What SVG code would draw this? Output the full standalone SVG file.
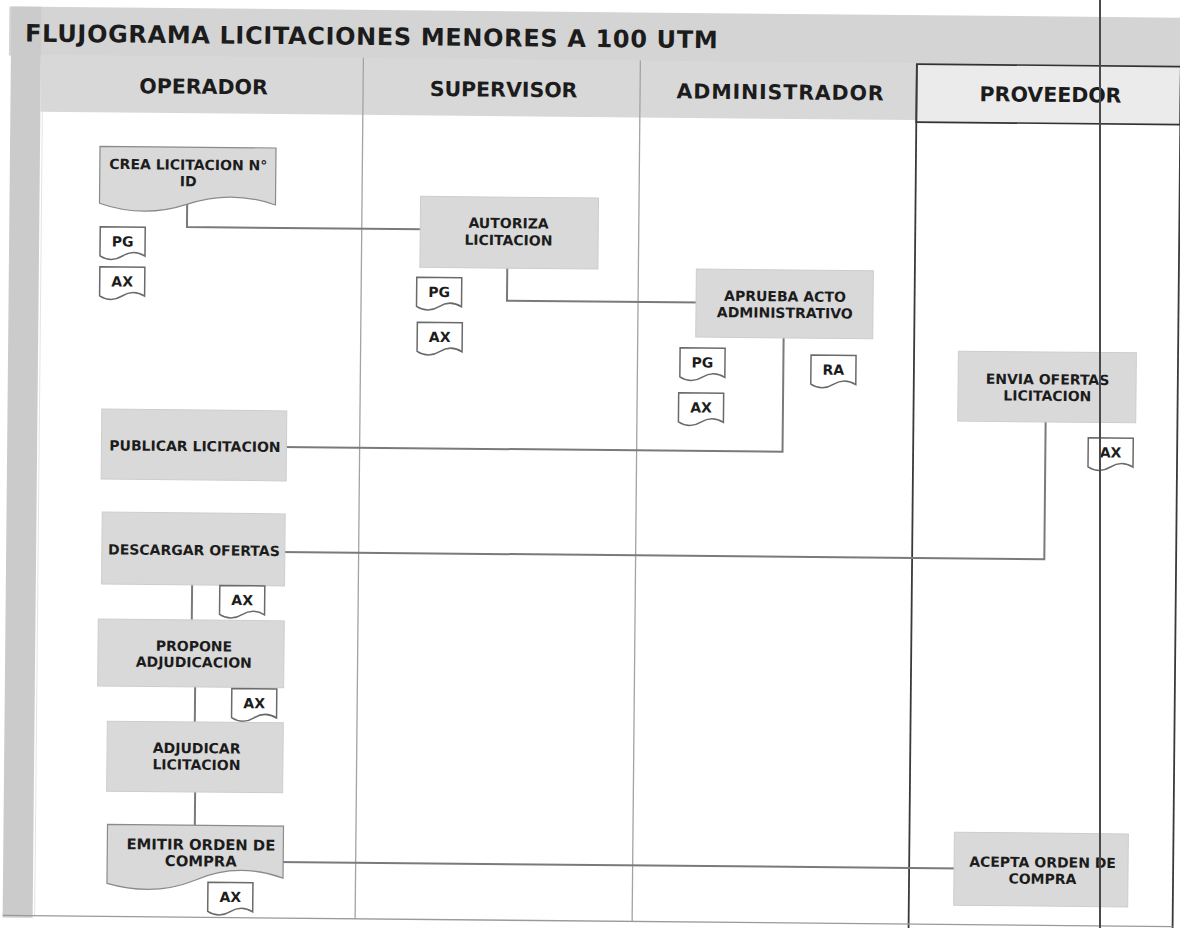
<svg xmlns="http://www.w3.org/2000/svg" width="1180" height="928" viewBox="0 0 1180 928">
<style>
.band{fill:#d4d4d4}
.strip{fill:#cbcbcb}
.hdr{fill:#d8d8d8}
.lane{stroke:#a3a3a3;stroke-width:1.3;fill:none}
.dark{stroke:#3a3a3a;stroke-width:1.8;fill:none}
.proc{fill:#d9d9d9;stroke:#cdcdcd;stroke-width:1}
.bigdoc{fill:#d9d9d9;stroke:#8a8a8a;stroke-width:1.2}
.doc{fill:#ffffff;stroke:#6a6a6a;stroke-width:1.5}
.conn{fill:none;stroke:#7a7a7a;stroke-width:2}
.t{font-family:'DejaVu Sans','Liberation Sans',sans-serif;font-weight:700;fill:#1c1c1c;text-anchor:middle}
.title{font-size:24px;letter-spacing:0.65px;text-anchor:start}
.h{font-size:20.5px}
.n{font-size:14px}
.s{font-size:14px}
</style>
<defs>
<path id="sdoc" d="M0,0 H45 V29 C37.5,24.3 30,24.3 22.5,29 C15,33.7 7.5,33.7 0,29 Z"/>
</defs>
<rect x="0" y="0" width="1180" height="928" fill="#ffffff"/>
<g transform="rotate(0.55 590 464)">
  <g id="frame">
    <rect class="band" x="5" y="12" width="1190" height="49"/>
    <rect class="strip" x="7" y="12" width="30" height="911"/>
    <rect class="hdr" x="37" y="60" width="876" height="57"/>
    <rect x="913" y="61" width="264" height="58" fill="#ebebeb" stroke="#333" stroke-width="1.6"/>
    <line class="lane" x1="359.5" y1="60" x2="359.5" y2="921"/>
    <line class="lane" x1="636.5" y1="60" x2="636.5" y2="921"/>
    <line x1="39" y1="117" x2="39" y2="921" stroke="#e4e4e4" stroke-width="1"/>
    <line class="dark" x1="913" y1="61" x2="913" y2="940"/>
    <line class="dark" x1="1177" y1="61" x2="1177" y2="940"/>
    <line x1="7" y1="921" x2="1177" y2="921" stroke="#9a9a9a" stroke-width="1.3"/>
    <text class="t title" x="21" y="47">FLUJOGRAMA LICITACIONES MENORES A 100 UTM</text>
    <text class="t h" x="200" y="97.5">OPERADOR</text>
    <text class="t h" x="500" y="97.5">SUPERVISOR</text>
    <text class="t h" x="777" y="97.5" style="letter-spacing:0.9px">ADMINISTRADOR</text>
    <text class="t h" x="1047" y="97.5">PROVEEDOR</text>
  </g>
  <g id="connectors">
    <path class="conn" d="M184.7,200 V230.9 H420"/>
    <path class="conn" d="M505.4,250 V301.5 H700"/>
    <path class="conn" d="M782.4,320 V449.9 H280"/>
    <path class="conn" d="M1045.2,400 V554.9 H280"/>
    <path class="conn" d="M193.3,580 V630"/>
    <path class="conn" d="M197.3,680 V735"/>
    <path class="conn" d="M198.3,780 V840"/>
    <path class="conn" d="M280,864.9 H965"/>
  </g>
  <g id="crea-licitacion">
    <path class="bigdoc" d="M97,151 H273 V208 C243.7,198 214.3,198 185,208 C155.7,218 126.3,218 97,208 Z"/>
    <text class="t n" x="185.5" y="173.6">CREA LICITACION N°</text>
    <text class="t n" x="185.5" y="190.1">ID</text>
  </g>
  <g id="pg1"><use href="#sdoc" x="98" y="231.5" class="doc"/><text class="t s" x="120.5" y="251">PG</text></g>
  <g id="ax1"><use href="#sdoc" x="98" y="271.5" class="doc"/><text class="t s" x="120.5" y="291">AX</text></g>
  <g id="autoriza-licitacion">
    <rect class="proc" x="418" y="198" width="178" height="71"/>
    <text class="t n" x="506.3" y="229">AUTORIZA</text>
    <text class="t n" x="506.3" y="246">LICITACION</text>
  </g>
  <g id="pg2"><use href="#sdoc" x="415" y="279" class="doc"/><text class="t s" x="437.5" y="298.5">PG</text></g>
  <g id="ax2"><use href="#sdoc" x="416" y="324" class="doc"/><text class="t s" x="438.5" y="343.5">AX</text></g>
  <g id="aprueba-acto">
    <rect class="proc" x="694.5" y="268" width="177" height="68"/>
    <text class="t n" x="783.4" y="299.5">APRUEBA ACTO</text>
    <text class="t n" x="783.4" y="316">ADMINISTRATIVO</text>
  </g>
  <g id="pg3"><use href="#sdoc" x="679" y="347" class="doc"/><text class="t s" x="701.5" y="366.5">PG</text></g>
  <g id="ax3"><use href="#sdoc" x="678" y="392" class="doc"/><text class="t s" x="700.5" y="411.5">AX</text></g>
  <g id="ra"><use href="#sdoc" x="810" y="353" class="doc"/><text class="t s" x="832.5" y="372.5">RA</text></g>
  <g id="envia-ofertas">
    <rect class="proc" x="957.3" y="347.6" width="178" height="70"/>
    <text class="t n" x="1046.7" y="380">ENVIA OFERTAS</text>
    <text class="t n" x="1046.7" y="396.5">LICITACION</text>
  </g>
  <g id="ax4"><use href="#sdoc" x="1088" y="433" class="doc"/><text class="t s" x="1110.5" y="452.5">AX</text></g>
  <g id="publicar-licitacion">
    <rect class="proc" x="101.3" y="413.8" width="185" height="70"/>
    <text class="t n" x="194.8" y="455">PUBLICAR LICITACION</text>
  </g>
  <g id="descargar-ofertas">
    <rect class="proc" x="102.7" y="516.8" width="183" height="72"/>
    <text class="t n" x="194.8" y="559">DESCARGAR OFERTAS</text>
  </g>
  <g id="ax5"><use href="#sdoc" x="221" y="589" class="doc"/><text class="t s" x="243.5" y="608.5">AX</text></g>
  <g id="propone-adjudicacion">
    <rect class="proc" x="99.8" y="623.8" width="186" height="67"/>
    <text class="t n" x="195.7" y="655">PROPONE</text>
    <text class="t n" x="195.7" y="671">ADJUDICACION</text>
  </g>
  <g id="ax6"><use href="#sdoc" x="234" y="692" class="doc"/><text class="t s" x="256.5" y="711.5">AX</text></g>
  <g id="adjudicar-licitacion">
    <rect class="proc" x="109.8" y="725.8" width="176" height="70"/>
    <text class="t n" x="199.4" y="757">ADJUDICAR</text>
    <text class="t n" x="199.4" y="773.5">LICITACION</text>
  </g>
  <g id="emitir-orden">
    <path class="bigdoc" d="M111,829 H287 V881 C258,871 228,871 199,884 C170,896 140,896 111,888 Z"/>
    <text class="t n" x="204.6" y="853.6" style="font-size:14.8px">EMITIR ORDEN DE</text>
    <text class="t n" x="204.6" y="870.1" style="font-size:14.8px">COMPRA</text>
  </g>
  <g id="ax7"><use href="#sdoc" x="212" y="886" class="doc"/><text class="t s" x="234.5" y="905.5">AX</text></g>
  <g id="acepta-orden">
    <rect class="proc" x="957.9" y="828.7" width="174" height="73"/>
    <text class="t n" x="1046.4" y="863">ACEPTA ORDEN DE</text>
    <text class="t n" x="1046.4" y="879.5">COMPRA</text>
  </g>
</g>
<line x1="1100" y1="0" x2="1100" y2="928" stroke="#4a4a4a" stroke-width="2"/>
</svg>
